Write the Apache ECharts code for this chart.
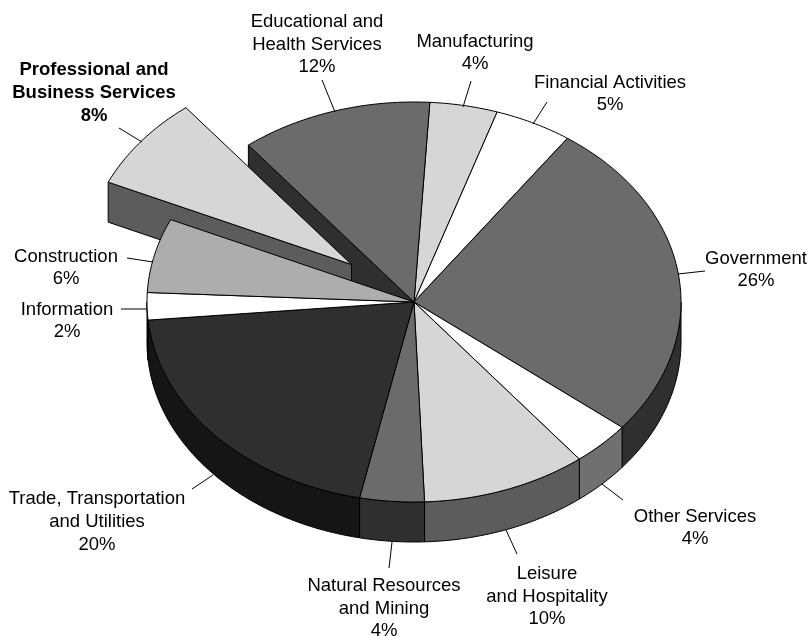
<!DOCTYPE html>
<html>
<head>
<meta charset="utf-8">
<style>html,body{margin:0;padding:0;background:#fff}#c{width:811px;height:636px}</style>
<script src="https://cdn.jsdelivr.net/npm/echarts@6/dist/echarts.min.js"></script>
</head>
<body>
<div id="c"></div>
<script>
// Data, clockwise from the start of Manufacturing
var categories = ['Manufacturing','Financial Activities','Government','Other Services','Leisure and Hospitality','Natural Resources and Mining','Trade, Transportation and Utilities','Information','Construction','Professional and Business Services','Educational and Health Services'];
var shares = [4.1,4.7,26.05,3.6,10.0,3.9,20.3,2.2,6.0,7.6,11.6];
var labelLines = [['Manufacturing'],['Financial Activities'],['Government'],['Other Services'],['Leisure','and Hospitality'],['Natural Resources','and Mining'],['Trade, Transportation','and Utilities'],['Information'],['Construction'],['Professional and','Business Services'],['Educational and','Health Services']];

// Styles and layout
var topColors = ['#d6d6d6','#ffffff','#6b6b6b','#ffffff','#d6d6d6','#6b6b6b','#2f2f2f','#ffffff','#adadad','#d6d6d6','#6b6b6b'];
var wallColors = ['#5c5c5c','#999999','#2f2f2f','#707070','#5c5c5c','#2f2f2f','#151515','#151515','#555555','#5c5c5c','#2f2f2f'];
var labelCenters = [[475,42],[610,83],[756,259],[695,517],[547,574],[384,586],[97,499],[67,310],[66,257],[94,70],[317,22]];
var lineHeights = [22,22,22,22,22.5,22.5,23,22,22,23,22.5];
var leaders = [[[471,81],[463,107]],[[547,102],[533,124]],[[705,271],[678,274]],[[623,500],[602,484]],[[517,554],[506,530]],[[389,568],[392,542]],[[192,489],[213,475]],[[121,309],[147,309]],[[127,258],[153,262]],[[119,128],[142,142]],[[322,80],[335,112]]];
var PIE = {cx:414, cy:302, rx:267, ry:200, depth:40, start:3.4};
var EXPLODED = 9, EXPLODE_DX = -62.5, EXPLODE_DY = -37.5;
var INNER_WALL = 10;

var total = shares.reduce(function(a,b){return a+b;},0);
var angles = [], acc = PIE.start;
shares.forEach(function(v){ var a0 = acc; acc += v/total*360; angles.push([a0,acc]); });

function pt(deg,dx,dy,down){
  var r = deg*Math.PI/180;
  return [PIE.cx+dx+PIE.rx*Math.sin(r), PIE.cy+dy-PIE.ry*Math.cos(r)+(down||0)];
}
function arc(a0,a1,dx,dy,down){
  var n = Math.max(2,Math.ceil(Math.abs(a1-a0)/1)), out=[];
  for(var k=0;k<=n;k++) out.push(pt(a0+(a1-a0)*k/n,dx,dy,down));
  return out;
}
var edge = {stroke:'#000',lineWidth:1,lineJoin:'round'};
function poly(points,fill){
  return {type:'polygon',shape:{points:points},style:Object.assign({fill:fill},edge)};
}
function topFace(i,dx,dy){
  var a = angles[i];
  return poly([[PIE.cx+dx,PIE.cy+dy]].concat(arc(a[0],a[1],dx,dy)),topColors[i]);
}
function outerWall(i){
  var a0 = Math.max(angles[i][0],90), a1 = Math.min(angles[i][1],270);
  if(a1<=a0) return null;
  return poly(arc(a0,a1,0,0).concat(arc(a1,a0,0,0,PIE.depth)),wallColors[i]);
}
function radialWall(deg,dx,dy,fill){
  var p = pt(deg,dx,dy), c=[PIE.cx+dx,PIE.cy+dy];
  return poly([c,p,[p[0],p[1]+PIE.depth],[c[0],c[1]+PIE.depth]],fill);
}
function renderBack(params){
  var i = params.dataIndex, ch=[];
  if(i===INNER_WALL){
    ch.push(radialWall(angles[i][0],0,0,wallColors[i]));
  }
  return {type:'group',children:ch};
}
function renderExploded(params){
  var i = params.dataIndex, ch=[];
  if(i===EXPLODED){
    ch.push(radialWall(angles[i][0],EXPLODE_DX,EXPLODE_DY,wallColors[i]));
    ch.push(topFace(i,EXPLODE_DX,EXPLODE_DY));
  }
  return {type:'group',children:ch};
}
function renderMain(params){
  var i = params.dataIndex, ch=[];
  if(i!==EXPLODED){
    var w = outerWall(i);
    if(w) ch.push(w);
    ch.push(topFace(i,0,0));
  }
  return {type:'group',children:ch};
}
function renderLabels(params,api){
  var i = params.dataIndex, ch=[], bold = i===EXPLODED;
  var lines = labelLines[i].concat([Math.round(api.value(0))+'%']);
  var c = labelCenters[i], lh = lineHeights[i];
  var l = leaders[i];
  ch.push({type:'line',shape:{x1:l[0][0],y1:l[0][1],x2:l[1][0],y2:l[1][1]},style:{stroke:'#000',lineWidth:1}});
  lines.forEach(function(t,k){
    ch.push({type:'text',style:{text:t,x:c[0],y:c[1]+k*lh,align:'center',verticalAlign:'middle',
      fill:'#000',font:(bold?'bold ':'')+'18.5px "Liberation Sans", Arial, sans-serif'}});
  });
  return {type:'group',children:ch};
}
var seriesData = shares.map(function(v,i){return {name:categories[i],value:v};});
function layer(fn,z){
  return {type:'custom',coordinateSystem:'none',renderItem:fn,data:seriesData,z:z,silent:true,animation:false,clip:false};
}
var chart = echarts.init(document.getElementById('c'),null,{renderer:'canvas'});
chart.setOption({
  animation:false,
  backgroundColor:'#ffffff',
  series:[layer(renderBack,1),layer(renderExploded,2),layer(renderMain,3),layer(renderLabels,4)]
});
</script>
</body>
</html>
